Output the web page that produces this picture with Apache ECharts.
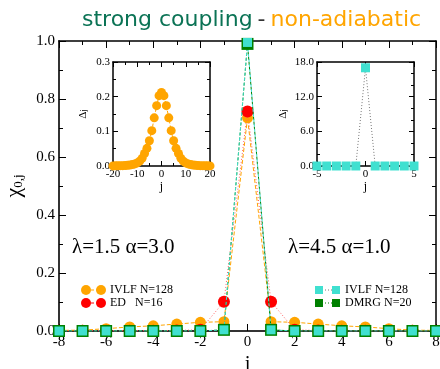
<!DOCTYPE html>
<html>
<head>
<meta charset="utf-8">
<script src="https://cdn.jsdelivr.net/npm/echarts@6/dist/echarts.min.js"></script>
<style>
  html, body { margin: 0; padding: 0; background: #fff; }
  #chart { width: 440px; height: 369px; }
</style>
</head>
<body>
<div id="chart"></div>
<script>
// sites j for the main panel
const sites = [-8, -7, -6, -5, -4, -3, -2, -1, 0, 1, 2, 3, 4, 5, 6, 7, 8];
// chi_{0,j}
const ivlfWeak = [0.002, 0.003, 0.008, 0.014, 0.018, 0.024, 0.030, 0.032, 0.735, 0.032, 0.030, 0.024, 0.018, 0.014, 0.008, 0.003, 0.002];
const edN16 = [0.001, 0.001, 0.001, 0.001, 0.001, 0.002, 0.004, 0.101, 0.757, 0.101, 0.004, 0.002, 0.001, 0.001, 0.001, 0.001, 0.001];
const ivlfStrong = [0, 0, 0, 0, 0, 0, 0, 0.004, 0.995, 0.004, 0, 0, 0, 0, 0, 0, 0];
const dmrgN20 = [0, 0, 0, 0, 0, 0, 0, 0.004, 0.99, 0.004, 0, 0, 0, 0, 0, 0, 0];

// left inset: Delta_j, lambda=1.5 alpha=3.0
const insetSitesL = [-20, -19, -18, -17, -16, -15, -14, -13, -12, -11, -10, -9, -8, -7, -6, -5, -4, -3, -2, -1, 0,
  1, 2, 3, 4, 5, 6, 7, 8, 9, 10, 11, 12, 13, 14, 15, 16, 17, 18, 19, 20];
const deltaL = [0.0003, 0.0005, 0.0005, 0.001, 0.001, 0.0015, 0.002, 0.003, 0.004, 0.006, 0.009, 0.014, 0.022, 0.036, 0.051, 0.073, 0.102, 0.139, 0.174, 0.203, 0.212,
  0.203, 0.174, 0.139, 0.102, 0.073, 0.051, 0.036, 0.022, 0.014, 0.009, 0.006, 0.004, 0.003, 0.002, 0.0015, 0.001, 0.001, 0.0005, 0.0005, 0.0003];

// right inset: Delta_j, lambda=4.5 alpha=1.0
const insetSitesR = [-5, -4, -3, -2, -1, 0, 1, 2, 3, 4, 5];
const deltaR = [0, 0, 0, 0, 0, 17.0, 0, 0, 0, 0, 0];

const xTicksMain = [-8, 8, 2];
const yTicksMain = [0, 1, 0.2];

const ORANGE = '#FFA500';
const RED = '#FF0000';
const CYAN = '#40E0D0';
const GREEN = '#008000';
const SERIF = 'Liberation Serif';

const pairs = (xs, ys) => xs.map((x, i) => [x, ys[i]]);

const chart = echarts.init(document.getElementById('chart'));

// axis helper: box-style axes with ticks pointing inward
function boxAxis(extra) {
  return Object.assign({
    type: 'value',
    splitLine: { show: false },
    axisLine: { show: true, onZero: false, lineStyle: { color: '#000', width: 1.5 } },
    axisTick: { inside: true, length: 7, lineStyle: { color: '#000', width: 1 } },
    minorTick: { show: true, splitNumber: 2, length: 4, lineStyle: { color: '#000', width: 1 } },
    axisLabel: { fontFamily: SERIF, fontSize: 15, color: '#000' }
  }, extra);
}

const mainX = { min: xTicksMain[0], max: xTicksMain[1], interval: xTicksMain[2] };
const mainY = { min: yTicksMain[0], max: yTicksMain[1], interval: yTicksMain[2] };

const insetLabel = { fontFamily: SERIF, fontSize: 11, color: '#000', margin: 3 };

chart.setOption({
  animation: false,
  title: {
    left: 77,
    top: 4,
    text: '{g|strong coupling} {k|-} {o|non-adiabatic}',
    textStyle: {
      rich: {
        g: { fontFamily: 'DejaVu Sans', fontSize: 22, fontWeight: 'normal', color: '#0B7355' },
        k: { fontFamily: 'DejaVu Sans', fontSize: 22, fontWeight: 'normal', color: '#333' },
        o: { fontFamily: 'DejaVu Sans', fontSize: 22, fontWeight: 'normal', color: ORANGE }
      }
    }
  },
  grid: [
    { left: 59, right: 4, top: 41, bottom: 38, outerBoundsMode: 'none', containLabel: false },
    { left: 113, top: 62, width: 97, height: 104, show: true, backgroundColor: '#fff', borderWidth: 0, z: 5, outerBoundsMode: 'none', containLabel: false },
    { left: 317, top: 62, width: 97, height: 104, show: true, backgroundColor: '#fff', borderWidth: 0, z: 5, outerBoundsMode: 'none', containLabel: false }
  ],
  xAxis: [
    boxAxis(Object.assign({ gridIndex: 0, position: 'bottom', name: 'j', nameLocation: 'middle', nameGap: 22,
      nameTextStyle: { fontFamily: SERIF, fontSize: 20, color: '#000' },
      axisLabel: { fontFamily: SERIF, fontSize: 15, color: '#000', margin: 4 },
      axisLine: { show: true, onZero: false, lineStyle: { color: '#333', width: 2 } } }, mainX)),
    boxAxis(Object.assign({ gridIndex: 0, position: 'top', axisLabel: { show: false } }, mainX)),
    boxAxis({ gridIndex: 1, position: 'bottom', min: -20, max: 20, interval: 10, z: 6,
      name: 'j', nameLocation: 'middle', nameGap: 15, nameTextStyle: { fontFamily: SERIF, fontSize: 12, color: '#000' },
      axisTick: { inside: true, length: 5 }, minorTick: { show: true, splitNumber: 2, length: 3 },
      axisLabel: insetLabel }),
    boxAxis({ gridIndex: 1, position: 'top', min: -20, max: 20, interval: 10, z: 6,
      axisTick: { inside: true, length: 5 }, minorTick: { show: true, splitNumber: 2, length: 3 },
      axisLabel: { show: false } }),
    boxAxis({ gridIndex: 2, position: 'bottom', min: -5, max: 5, interval: 5, z: 6,
      name: 'j', nameLocation: 'middle', nameGap: 15, nameTextStyle: { fontFamily: SERIF, fontSize: 12, color: '#000' },
      axisTick: { inside: true, length: 5 }, minorTick: { show: false },
      axisLabel: insetLabel }),
    boxAxis({ gridIndex: 2, position: 'top', min: -5, max: 5, interval: 5, z: 6,
      axisTick: { inside: true, length: 5 }, minorTick: { show: false },
      axisLabel: { show: false } })
  ],
  yAxis: [
    boxAxis(Object.assign({ gridIndex: 0, position: 'left',
      name: '{c|χ}{s|0,j}', nameLocation: 'middle', nameGap: 32, nameRotate: 90,
      nameTextStyle: { rich: {
        c: { fontFamily: SERIF, fontSize: 22, color: '#000' },
        s: { fontFamily: SERIF, fontSize: 13, color: '#000', padding: [10, 0, 0, 0] }
      } },
      axisLine: { show: true, onZero: false, lineStyle: { color: '#333', width: 2 } },
      axisLabel: { fontFamily: SERIF, fontSize: 15, color: '#000', margin: 4, formatter: v => v.toFixed(1) } }, mainY)),
    boxAxis(Object.assign({ gridIndex: 0, position: 'right', axisLabel: { show: false } }, mainY)),
    boxAxis({ gridIndex: 1, position: 'left', min: 0, max: 0.3, interval: 0.1, z: 6,
      name: 'Δ{s|j}', nameLocation: 'middle', nameGap: 24, nameRotate: 90,
      nameTextStyle: { fontFamily: SERIF, fontSize: 11, color: '#000', rich: { s: { fontFamily: SERIF, fontSize: 8, color: '#000' } } },
      axisTick: { inside: true, length: 5 }, minorTick: { show: true, splitNumber: 2, length: 3 },
      axisLabel: Object.assign({ formatter: v => v.toFixed(1) }, insetLabel) }),
    boxAxis({ gridIndex: 1, position: 'right', min: 0, max: 0.3, interval: 0.1, z: 6,
      axisTick: { inside: true, length: 5 }, minorTick: { show: true, splitNumber: 2, length: 3 },
      axisLabel: { show: false } }),
    boxAxis({ gridIndex: 2, position: 'left', min: 0, max: 18, interval: 6, z: 6,
      name: 'Δ{s|j}', nameLocation: 'middle', nameGap: 28, nameRotate: 90,
      nameTextStyle: { fontFamily: SERIF, fontSize: 11, color: '#000', rich: { s: { fontFamily: SERIF, fontSize: 8, color: '#000' } } },
      axisTick: { inside: true, length: 5 }, minorTick: { show: true, splitNumber: 3, length: 3 },
      axisLabel: Object.assign({ formatter: v => v.toFixed(1) }, insetLabel) }),
    boxAxis({ gridIndex: 2, position: 'right', min: 0, max: 18, interval: 6, z: 6,
      axisTick: { inside: true, length: 5 }, minorTick: { show: true, splitNumber: 3, length: 3 },
      axisLabel: { show: false } })
  ],
  series: [
    {
      name: 'IVLF N=128 (λ=1.5)', type: 'line', xAxisIndex: 0, yAxisIndex: 0,
      data: pairs(sites, ivlfWeak), symbol: 'circle', symbolSize: 11,
      itemStyle: { color: ORANGE }, lineStyle: { color: ORANGE, width: 1, type: [4, 2] }, z: 2
    },
    {
      name: 'ED N=16', type: 'line', xAxisIndex: 0, yAxisIndex: 0,
      data: pairs(sites, edN16), symbol: 'circle', symbolSize: 12,
      itemStyle: { color: RED }, lineStyle: { color: '#FF6060', width: 1, type: [1, 2] }, z: 3
    },
    {
      name: 'DMRG N=20', type: 'line', xAxisIndex: 0, yAxisIndex: 0,
      data: pairs(sites, dmrgN20), symbol: 'rect', symbolSize: 12,
      itemStyle: { color: GREEN }, lineStyle: { color: GREEN, width: 1, type: [3, 2] }, z: 4
    },
    {
      name: 'IVLF N=128 (λ=4.5)', type: 'line', xAxisIndex: 0, yAxisIndex: 0,
      data: pairs(sites, ivlfStrong), symbol: 'rect', symbolSize: 9,
      itemStyle: { color: CYAN }, lineStyle: { color: CYAN, width: 1, type: [3, 2] }, z: 4
    },
    {
      name: 'inset left', type: 'line', xAxisIndex: 2, yAxisIndex: 2,
      data: pairs(insetSitesL, deltaL), symbol: 'circle', symbolSize: 9,
      itemStyle: { color: ORANGE }, lineStyle: { color: ORANGE, width: 1, type: [3, 2] }, z: 7
    },
    {
      name: 'inset right', type: 'line', xAxisIndex: 4, yAxisIndex: 4,
      data: pairs(insetSitesR, deltaR), symbol: 'rect', symbolSize: 9,
      itemStyle: { color: CYAN }, lineStyle: { color: '#777', width: 1, type: [1, 2] }, z: 7
    }
  ],
  graphic: [
    { type: 'text', left: 72, top: 237, z: 10, style: { text: 'λ=1.5 α=3.0', font: '21px "Liberation Serif"', fill: '#000' } },
    { type: 'text', left: 288, top: 237, z: 10, style: { text: 'λ=4.5 α=1.0', font: '21px "Liberation Serif"', fill: '#000' } },
    // legend, left block
    { type: 'line', z: 10, shape: { x1: 86, y1: 290, x2: 101, y2: 290 }, style: { stroke: ORANGE, lineWidth: 1, lineDash: [3, 2] } },
    { type: 'circle', z: 10, shape: { cx: 86, cy: 290, r: 5 }, style: { fill: ORANGE } },
    { type: 'circle', z: 10, shape: { cx: 101, cy: 290, r: 5 }, style: { fill: ORANGE } },
    { type: 'text', z: 10, left: 110, top: 284, style: { text: 'IVLF N=128', font: '12px "Liberation Serif"', fill: '#000' } },
    { type: 'line', z: 10, shape: { x1: 86, y1: 303, x2: 101, y2: 303 }, style: { stroke: RED, lineWidth: 1, lineDash: [3, 2] } },
    { type: 'circle', z: 10, shape: { cx: 86, cy: 303, r: 5 }, style: { fill: RED } },
    { type: 'circle', z: 10, shape: { cx: 101, cy: 303, r: 5 }, style: { fill: RED } },
    { type: 'text', z: 10, left: 110, top: 297, style: { text: 'ED   N=16', font: '12px "Liberation Serif"', fill: '#000' } },
    // legend, right block
    { type: 'line', z: 10, shape: { x1: 319, y1: 290, x2: 336, y2: 290 }, style: { stroke: '#777', lineWidth: 1, lineDash: [1, 2] } },
    { type: 'rect', z: 10, shape: { x: 315, y: 286, width: 8, height: 8 }, style: { fill: CYAN } },
    { type: 'rect', z: 10, shape: { x: 332, y: 286, width: 8, height: 8 }, style: { fill: CYAN } },
    { type: 'text', z: 10, left: 345, top: 284, style: { text: 'IVLF N=128', font: '12px "Liberation Serif"', fill: '#000' } },
    { type: 'line', z: 10, shape: { x1: 319, y1: 303, x2: 336, y2: 303 }, style: { stroke: GREEN, lineWidth: 1, lineDash: [1, 2] } },
    { type: 'rect', z: 10, shape: { x: 315, y: 299, width: 8, height: 8 }, style: { fill: GREEN } },
    { type: 'rect', z: 10, shape: { x: 332, y: 299, width: 8, height: 8 }, style: { fill: GREEN } },
    { type: 'text', z: 10, left: 345, top: 297, style: { text: 'DMRG N=20', font: '12px "Liberation Serif"', fill: '#000' } }
  ]
});
</script>
</body>
</html>
